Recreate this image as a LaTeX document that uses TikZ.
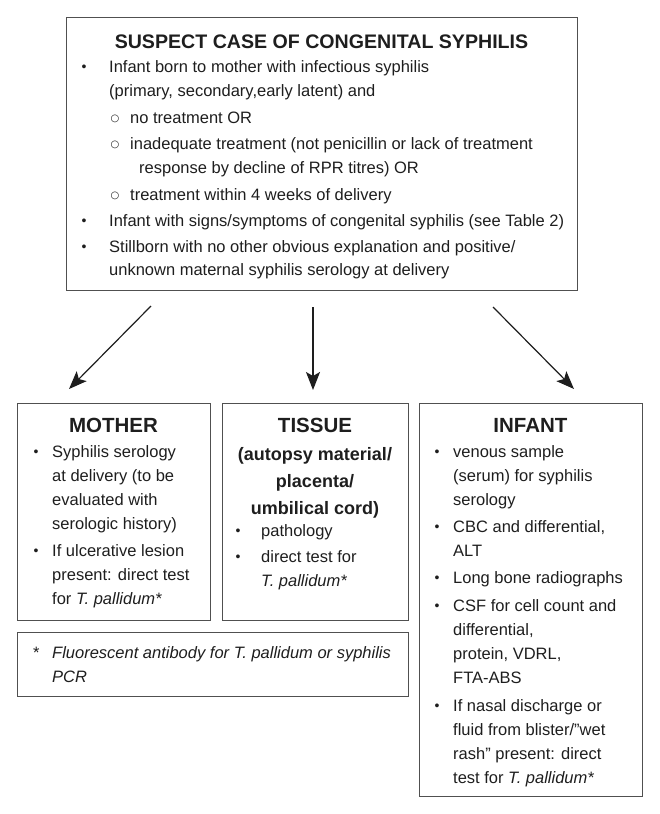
\documentclass[tikz,border=0pt]{standalone}
\usepackage{fontspec}
\setmainfont{Liberation Sans}
\newfontfamily\dejavu{DejaVu Sans}
\usetikzlibrary{arrows.meta}
\definecolor{ink}{HTML}{1E1E1E}
\definecolor{frame}{HTML}{505050}
\newcommand{\bulsym}{\raisebox{1.0pt}{•}}
\newcommand{\cirsym}{\raisebox{2.0pt}{○}}
\tikzset{
 box/.style={draw=frame, line width=1.4pt, rectangle, inner sep=0pt, anchor=north west},
 txt/.style={anchor=base west, inner sep=0pt, text=ink, font=\fontsize{16.5}{20}\selectfont},
 itx/.style={txt, font=\fontsize{16.5}{20}\selectfont\itshape},
 ttl/.style={anchor=base, inner sep=0pt, text=ink, font=\fontsize{20.5}{24}\selectfont\bfseries},
 bigttl/.style={ttl, font=\fontsize{19.6}{24}\selectfont\bfseries},
 subttl/.style={anchor=base, inner sep=0pt, text=ink, font=\fontsize{18}{22}\selectfont\bfseries},
 bul/.style={anchor=base, inner sep=0pt, text=ink, font=\fontsize{14}{14}\selectfont},
 cir/.style={anchor=base, inner sep=0pt, text=ink, font=\dejavu\fontsize{10}{10}\selectfont},
 arr/.style={draw=ink, line width=1.2pt, -{Stealth[length=18pt,width=14pt,inset=4pt]}},
}
\begin{document}
\begin{tikzpicture}[x=1pt,y=-1pt]
\useasboundingbox (0,0) rectangle (659,814);
% boxes
\node[box, minimum width=511pt, minimum height=273pt] (top) at (66,17) {};
\node[box, minimum width=193pt, minimum height=217pt] (mother) at (17,403) {};
\node[box, minimum width=186pt, minimum height=217pt] (tissue) at (222,403) {};
\node[box, minimum width=223pt, minimum height=393pt] (infant) at (419,403) {};
\node[box, minimum width=391pt, minimum height=64pt] (foot) at (17,632) {};
% top box text
\node[bigttl] (ttop) at (321.5,48) {SUSPECT CASE OF CONGENITAL SYPHILIS};
\node[bul] (tb1) at (84,72) {\bulsym};
\node[txt] (tl1) at (109,72) {Infant born to mother with infectious syphilis};
\node[txt] (tl2) at (109,96) {(primary, secondary,early latent) and};
\node[cir] (tc1) at (115,123) {\cirsym};
\node[txt] (tl3) at (130,123) {no treatment OR};
\node[cir] (tc2) at (115,149.5) {\cirsym};
\node[txt] (tl4) at (130,149.5) {inadequate treatment (not penicillin or lack of treatment};
\node[txt] (tl5) at (139,173.5) {response by decline of RPR titres) OR};
\node[cir] (tc3) at (115,200) {\cirsym};
\node[txt] (tl6) at (130,200) {treatment within 4 weeks of delivery};
\node[bul] (tb2) at (84,226) {\bulsym};
\node[txt] (tl7) at (109,226) {Infant with signs/symptoms of congenital syphilis (see Table 2)};
\node[bul] (tb3) at (84,252) {\bulsym};
\node[txt] (tl8) at (109,252) {Stillborn with no other obvious explanation and positive/};
\node[txt] (tl9) at (109,275.5) {unknown maternal syphilis serology at delivery};
% arrows
\coordinate (a1s) at (151,306); \coordinate (a1e) at (69,389);
\coordinate (a2s) at (313,307); \coordinate (a2e) at (313,390);
\coordinate (a3s) at (493,307); \coordinate (a3e) at (574,389);
\draw[arr] (a1s) -- (a1e);
\draw[arr] (a2s) -- (a2e);
\draw[arr] (a3s) -- (a3e);
% mother
\node[ttl] (tmother) at (113.5,432) {MOTHER};
\node[bul] (mb1) at (36,457) {\bulsym};
\node[txt] (ml1) at (52,457) {Syphilis serology};
\node[txt] (ml2) at (52,481) {at delivery (to be};
\node[txt] (ml3) at (52,505) {evaluated with};
\node[txt] (ml4) at (52,529) {serologic history)};
\node[bul] (mb2) at (36,556) {\bulsym};
\node[txt] (ml5) at (52,556) {If ulcerative lesion};
\node[txt] (ml6) at (52,580) {present: direct test};
\node[txt] (ml7) at (52,604) {for \textit{T. pallidum*}};
% tissue
\node[ttl] (ttissue) at (315,432) {TISSUE};
\node[subttl] (ts1) at (315,460) {(autopsy material/};
\node[subttl] (ts2) at (315,487) {placenta/};
\node[subttl] (ts3) at (315,514) {umbilical cord)};
\node[bul] (sb1) at (238,536) {\bulsym};
\node[txt] (sl1) at (261,536) {pathology};
\node[bul] (sb2) at (238,562) {\bulsym};
\node[txt] (sl2) at (261,562) {direct test for};
\node[itx] (sl3) at (261,586.5) {T. pallidum*};
% infant
\node[ttl] (tinfant) at (530.5,432) {INFANT};
\node[bul] (ib1) at (437,457) {\bulsym};
\node[txt] (il1) at (453,457) {venous sample};
\node[txt] (il2) at (453,481) {(serum) for syphilis};
\node[txt] (il3) at (453,505) {serology};
\node[bul] (ib2) at (437,532) {\bulsym};
\node[txt] (il4) at (453,532) {CBC and differential,};
\node[txt] (il5) at (453,556) {ALT};
\node[bul] (ib3) at (437,583) {\bulsym};
\node[txt] (il6) at (453,583) {Long bone radiographs};
\node[bul] (ib4) at (437,611) {\bulsym};
\node[txt] (il7) at (453,611) {CSF for cell count and};
\node[txt] (il8) at (453,635) {differential,};
\node[txt] (il9) at (453,659) {protein, VDRL,};
\node[txt] (il10) at (453,683) {FTA-ABS};
\node[bul] (ib5) at (437,711) {\bulsym};
\node[txt] (il11) at (453,711) {If nasal discharge or};
\node[txt] (il12) at (453,735) {fluid from blister/”wet};
\node[txt] (il13) at (453,759) {rash” present: direct};
\node[txt] (il14) at (453,783) {test for \textit{T. pallidum*}};
% footnote
\node[txt] (fstar) at (33,658) {*};
\node[itx] (fl1) at (52,658) {Fluorescent antibody for T. pallidum or syphilis};
\node[itx] (fl2) at (52,682) {PCR};
\end{tikzpicture}
\end{document}
